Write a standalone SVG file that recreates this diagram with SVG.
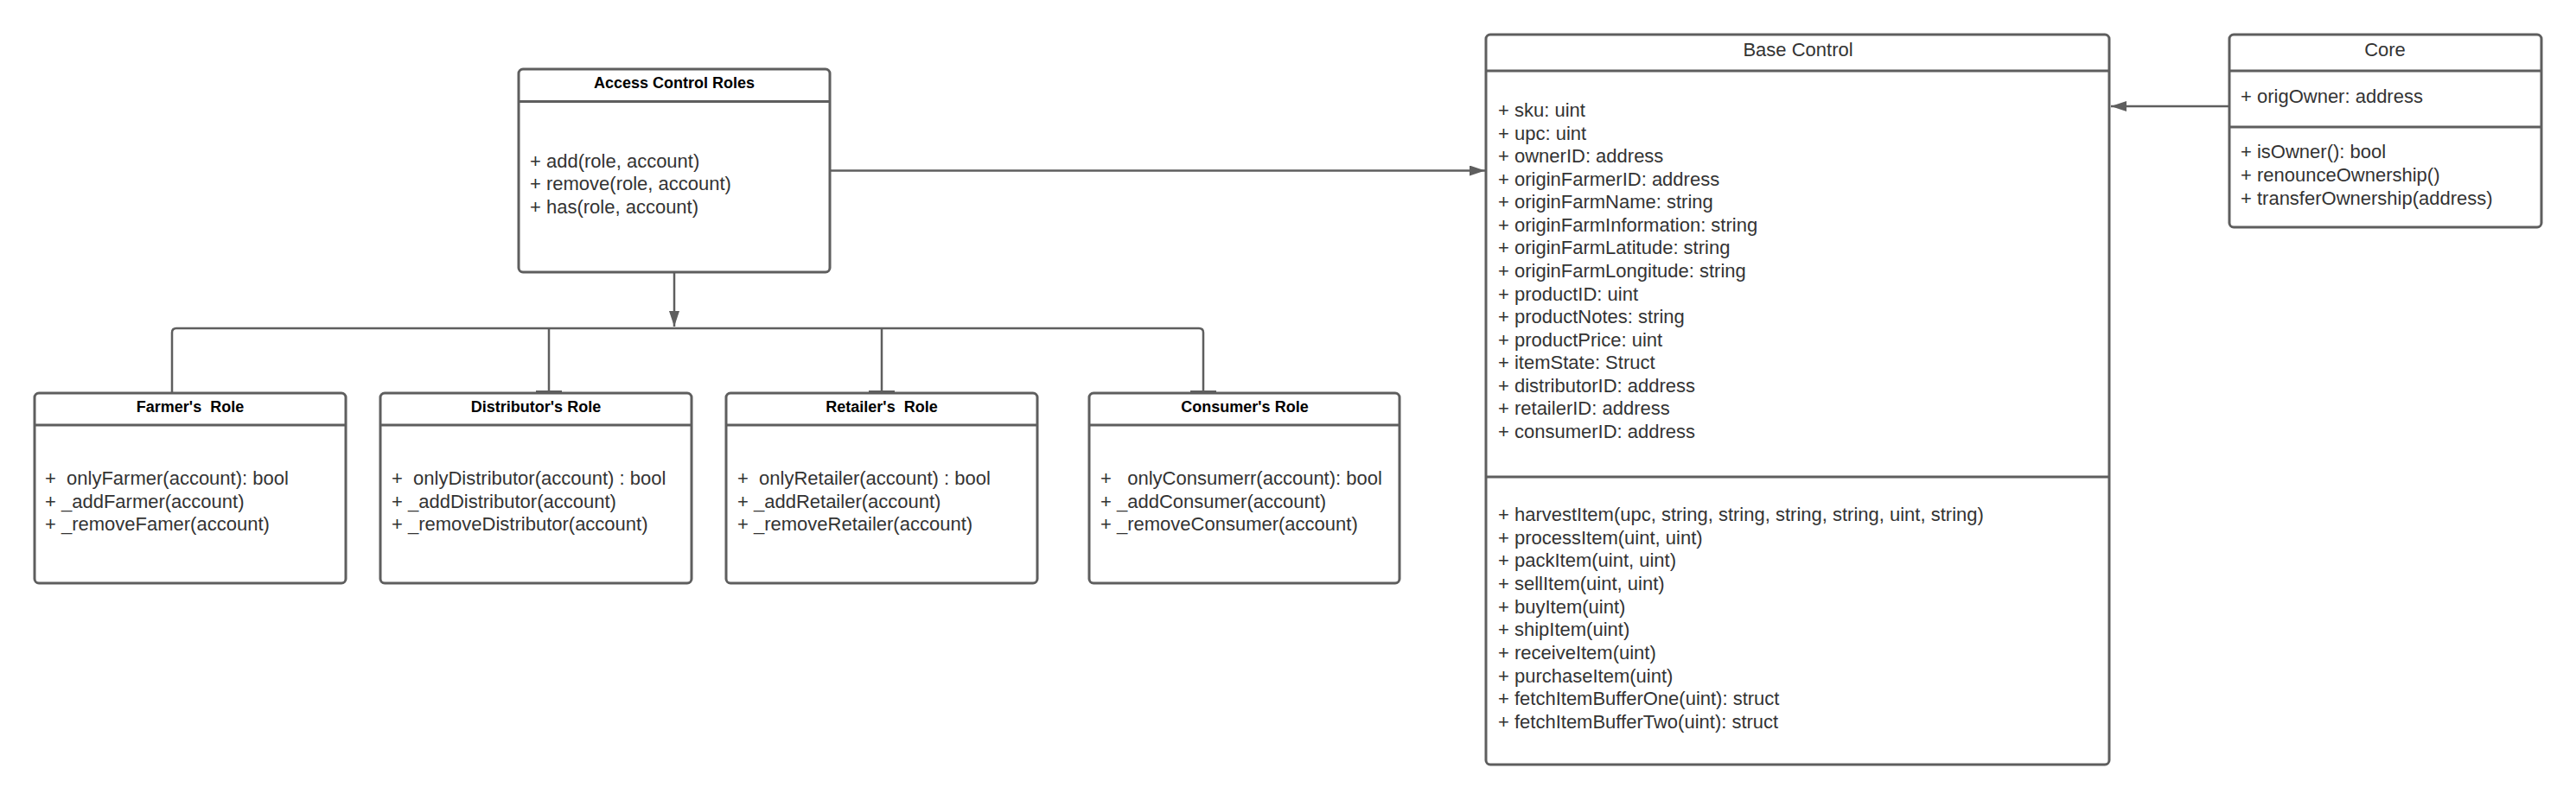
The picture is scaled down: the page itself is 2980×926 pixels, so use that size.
<svg xmlns="http://www.w3.org/2000/svg" width="2980" height="926" viewBox="0 0 2980 926">
<style>
.box{fill:#ffffff;stroke:#5e5e5e;stroke-width:3}
.sep{stroke:#5e5e5e;stroke-width:3;fill:none}
.t{font-family:"Liberation Sans",Arial,sans-serif;font-size:22px;fill:#333333;white-space:pre}
.h{font-family:"Liberation Sans",Arial,sans-serif;font-size:18px;font-weight:bold;fill:#000000;text-anchor:middle;white-space:pre}
.hn{font-family:"Liberation Sans",Arial,sans-serif;font-size:22px;fill:#333333;text-anchor:middle}
.con{stroke:#5e5e5e;stroke-width:2.5;fill:none}
.bar{fill:#5e5e5e}
</style>
<defs>
<marker id="arr" viewBox="0 0 18 12" refX="18" refY="6" markerWidth="18" markerHeight="12" markerUnits="userSpaceOnUse" orient="auto">
<path d="M0,0 L18,6 L0,12 Z" fill="#5e5e5e"/>
</marker>
</defs>
<rect width="2980" height="926" fill="#ffffff"/>

<g id="connectors">
<path class="con" d="M960,197.5 L1718,197.5" marker-end="url(#arr)"/>
<path class="con" d="M2579,123 L2442,123" marker-end="url(#arr)"/>
<path class="con" d="M780,315 L780,378" marker-end="url(#arr)"/>
<path class="con" d="M199,455 L199,385 Q199,380 204,380 L1387,380 Q1392,380 1392,385 L1392,455"/>
<path class="con" d="M635,380 L635,455"/>
<path class="con" d="M1020,380 L1020,455"/>
<rect class="bar" x="620" y="452" width="30" height="3.5"/>
<rect class="bar" x="1005" y="452" width="30" height="3.5"/>
<rect class="bar" x="1377" y="452" width="30" height="3.5"/>
</g>

<g id="access-control-roles">
<rect class="box" x="600" y="80" width="360" height="235" rx="5"/>
<line class="sep" x1="600" y1="117.5" x2="960" y2="117.5"/>
<text class="h" x="780" y="102">Access Control Roles</text>
<text class="t" x="613" y="193.5">+ add(role, account)</text>
<text class="t" x="613" y="220">+ remove(role, account)</text>
<text class="t" x="613" y="246.5">+ has(role, account)</text>
</g>

<g id="farmers-role">
<rect class="box" x="40" y="455" width="360" height="220" rx="5"/>
<line class="sep" x1="40" y1="492" x2="400" y2="492"/>
<text class="h" x="220" y="477">Farmer's  Role</text>
<text class="t" x="52" y="561">+  onlyFarmer(account): bool</text>
<text class="t" x="52" y="588">+ _addFarmer(account)</text>
<text class="t" x="52" y="614">+ _removeFamer(account)</text>
</g>

<g id="distributors-role">
<rect class="box" x="440" y="455" width="360" height="220" rx="5"/>
<line class="sep" x1="440" y1="492" x2="800" y2="492"/>
<text class="h" x="620" y="477">Distributor's Role</text>
<text class="t" x="453" y="561">+  onlyDistributor(account) : bool</text>
<text class="t" x="453" y="588">+ _addDistributor(account)</text>
<text class="t" x="453" y="614">+ _removeDistributor(account)</text>
</g>

<g id="retailers-role">
<rect class="box" x="840" y="455" width="360" height="220" rx="5"/>
<line class="sep" x1="840" y1="492" x2="1200" y2="492"/>
<text class="h" x="1020" y="477">Retailer's  Role</text>
<text class="t" x="853" y="561">+  onlyRetailer(account) : bool</text>
<text class="t" x="853" y="588">+ _addRetailer(account)</text>
<text class="t" x="853" y="614">+ _removeRetailer(account)</text>
</g>

<g id="consumers-role">
<rect class="box" x="1260" y="455" width="359" height="220" rx="5"/>
<line class="sep" x1="1260" y1="492" x2="1619" y2="492"/>
<text class="h" x="1440" y="477">Consumer's Role</text>
<text class="t" x="1273" y="561">+   onlyConsumerr(account): bool</text>
<text class="t" x="1273" y="588">+ _addConsumer(account)</text>
<text class="t" x="1273" y="614">+ _removeConsumer(account)</text>
</g>

<g id="base-control">
<rect class="box" x="1719" y="40" width="721" height="845" rx="5"/>
<line class="sep" x1="1719" y1="82" x2="2440" y2="82"/>
<line class="sep" x1="1719" y1="552" x2="2440" y2="552"/>
<text class="hn" x="2080" y="65">Base Control</text>
<text class="t" x="1733" y="135">+ sku: uint</text>
<text class="t" x="1733" y="161.6">+ upc: uint</text>
<text class="t" x="1733" y="188.1">+ ownerID: address</text>
<text class="t" x="1733" y="214.7">+ originFarmerID: address</text>
<text class="t" x="1733" y="241.3">+ originFarmName: string</text>
<text class="t" x="1733" y="267.9">+ originFarmInformation: string</text>
<text class="t" x="1733" y="294.4">+ originFarmLatitude: string</text>
<text class="t" x="1733" y="321">+ originFarmLongitude: string</text>
<text class="t" x="1733" y="347.6">+ productID: uint</text>
<text class="t" x="1733" y="374.1">+ productNotes: string</text>
<text class="t" x="1733" y="400.7">+ productPrice: uint</text>
<text class="t" x="1733" y="427.3">+ itemState: Struct</text>
<text class="t" x="1733" y="453.8">+ distributorID: address</text>
<text class="t" x="1733" y="480.4">+ retailerID: address</text>
<text class="t" x="1733" y="507">+ consumerID: address</text>
<text class="t" x="1733" y="603">+ harvestItem(upc, string, string, string, string, uint, string)</text>
<text class="t" x="1733" y="629.7">+ processItem(uint, uint)</text>
<text class="t" x="1733" y="656.3">+ packItem(uint, uint)</text>
<text class="t" x="1733" y="683">+ sellItem(uint, uint)</text>
<text class="t" x="1733" y="709.7">+ buyItem(uint)</text>
<text class="t" x="1733" y="736.3">+ shipItem(uint)</text>
<text class="t" x="1733" y="763">+ receiveItem(uint)</text>
<text class="t" x="1733" y="789.7">+ purchaseItem(uint)</text>
<text class="t" x="1733" y="816.3">+ fetchItemBufferOne(uint): struct</text>
<text class="t" x="1733" y="843">+ fetchItemBufferTwo(uint): struct</text>
</g>

<g id="core">
<rect class="box" x="2579" y="40" width="361" height="223" rx="5"/>
<line class="sep" x1="2579" y1="82" x2="2940" y2="82"/>
<line class="sep" x1="2579" y1="147" x2="2940" y2="147"/>
<text class="hn" x="2759" y="65">Core</text>
<text class="t" x="2592" y="119">+ origOwner: address</text>
<text class="t" x="2592" y="183">+ isOwner(): bool</text>
<text class="t" x="2592" y="210">+ renounceOwnership()</text>
<text class="t" x="2592" y="237">+ transferOwnership(address)</text>
</g>
</svg>
